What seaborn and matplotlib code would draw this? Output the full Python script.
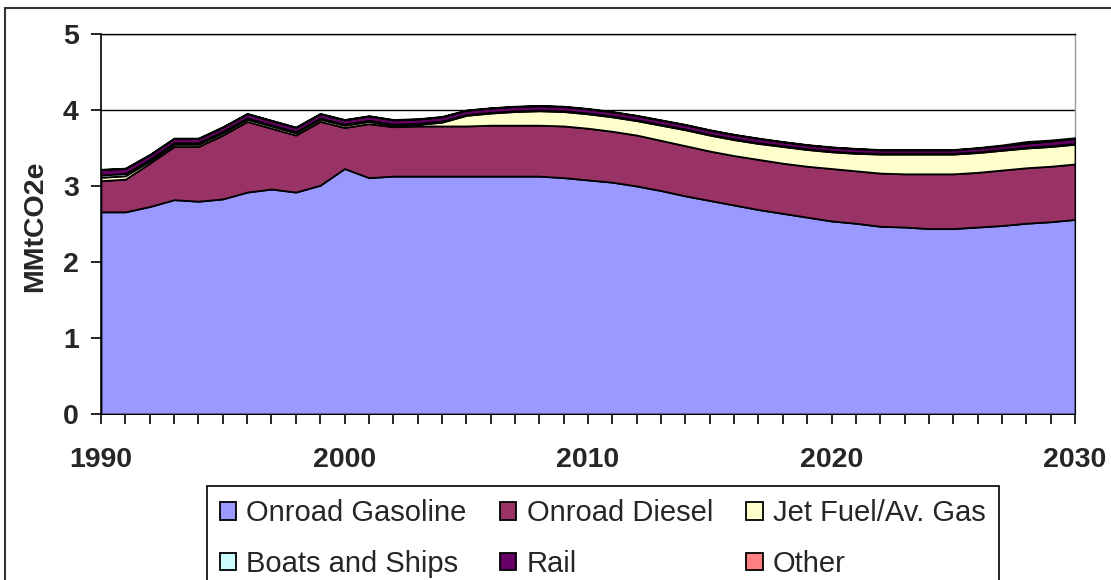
import numpy as np
import pandas as pd
import matplotlib
matplotlib.use("Agg")
import matplotlib.pyplot as plt
from matplotlib.patches import Rectangle
import seaborn as sns

years = list(range(1990, 2031))

onroad_gasoline = [2.66, 2.66, 2.73, 2.82, 2.80, 2.83, 2.92, 2.96, 2.92, 3.01,
                   3.23, 3.11, 3.13, 3.13, 3.13, 3.13, 3.13, 3.13, 3.13, 3.11,
                   3.08, 3.05, 3.00, 2.94, 2.87, 2.81, 2.75, 2.69, 2.64, 2.59,
                   2.54, 2.51, 2.47, 2.46, 2.44, 2.44, 2.46, 2.48, 2.51, 2.53,
                   2.56]
onroad_diesel = [0.41, 0.43, 0.57, 0.70, 0.72, 0.84, 0.93, 0.80, 0.75, 0.84,
                 0.54, 0.71, 0.65, 0.66, 0.66, 0.66, 0.67, 0.67, 0.67, 0.68,
                 0.68, 0.67, 0.67, 0.66, 0.66, 0.65, 0.65, 0.66, 0.66, 0.67,
                 0.69, 0.69, 0.70, 0.70, 0.72, 0.72, 0.72, 0.73, 0.73, 0.73,
                 0.73]
jet_fuel = [0.045, 0.045, 0.03, 0.03, 0.03, 0.03, 0.03, 0.03, 0.03, 0.03,
            0.03, 0.03, 0.02, 0.02, 0.05, 0.14, 0.16, 0.18, 0.19, 0.19,
            0.19, 0.19, 0.19, 0.20, 0.21, 0.21, 0.21, 0.21, 0.22, 0.22,
            0.22, 0.23, 0.25, 0.26, 0.26, 0.26, 0.26, 0.26, 0.26, 0.26,
            0.26]
boats_ships = [0.03, 0.03, 0.02, 0.02, 0.02, 0.02, 0.015, 0.015, 0.015, 0.015,
               0.015, 0.015, 0.015, 0.015, 0.015, 0.01, 0.01, 0.01, 0.01, 0.01,
               0.01, 0.01, 0.01, 0.01, 0.01, 0.01, 0.01, 0.01, 0.01, 0.01,
               0.01, 0.01, 0.01, 0.01, 0.01, 0.01, 0.01, 0.01, 0.01, 0.01,
               0.01]
rail = [0.07, 0.065, 0.06, 0.055, 0.055, 0.055, 0.055, 0.055, 0.055, 0.055,
        0.055, 0.055, 0.055, 0.055, 0.055, 0.055, 0.055, 0.055, 0.055, 0.055,
        0.055, 0.055, 0.055, 0.055, 0.055, 0.055, 0.055, 0.055, 0.05, 0.05,
        0.05, 0.05, 0.045, 0.045, 0.045, 0.045, 0.05, 0.05, 0.055, 0.06,
        0.065]
other = [0.005] * 37 + [0.01, 0.02, 0.015, 0.01]

series_names = ["Onroad Gasoline", "Onroad Diesel", "Jet Fuel/Av. Gas",
                "Boats and Ships", "Rail", "Other"]
series_colors = ["#9999FF", "#993366", "#FFFFCC", "#CCFFFF", "#660066", "#FF8080"]

df = pd.DataFrame({
    "Year": years,
    "Onroad Gasoline": onroad_gasoline,
    "Onroad Diesel": onroad_diesel,
    "Jet Fuel/Av. Gas": jet_fuel,
    "Boats and Ships": boats_ships,
    "Rail": rail,
    "Other": other,
})

sns.set_theme(style="white")
plt.rcParams["font.family"] = ["Liberation Sans", "DejaVu Sans"]

fig = plt.figure(figsize=(11.11, 5.80), dpi=100)
ax = fig.add_axes([101 / 1111, 1 - 414 / 580, 974 / 1111, 380 / 580])

palette = sns.color_palette(series_colors)
polys = ax.stackplot(df["Year"], [df[n] for n in series_names],
                     labels=series_names, colors=palette,
                     edgecolor="black", linewidth=1.3, zorder=3)

ax.set_xlim(1990, 2030)
ax.set_ylim(0, 5)
ax.set_xticks([1990, 2000, 2010, 2020, 2030])
ax.set_xticks(years, minor=True)
ax.set_yticks([0, 1, 2, 3, 4, 5])
ax.set_axisbelow(True)
ax.grid(axis="y", color="black", linewidth=1.0, zorder=0)
ax.grid(axis="x", visible=False)

for side in ["left", "bottom", "top"]:
    ax.spines[side].set_visible(True)
    ax.spines[side].set_color("black")
    ax.spines[side].set_linewidth(1.2)
ax.spines["right"].set_visible(True)
ax.spines["right"].set_color("#999999")
ax.spines["right"].set_linewidth(1.0)
ax.spines["top"].set_linewidth(1.0)

ax.tick_params(axis="x", which="both", direction="out", length=7, width=1.2,
               color="black", bottom=True, pad=17, labelsize=20.5)
ax.tick_params(axis="y", which="major", direction="out", length=7, width=1.2,
               color="black", left=True, pad=9, labelsize=20.5)
for lab in ax.get_xticklabels() + ax.get_yticklabels():
    lab.set_fontweight("bold")

ax.set_ylabel("MMtCO2e", fontsize=20.5, fontweight="bold")
ax.yaxis.set_label_coords(-0.054, 0.495)
ax.set_xlabel("")

order = [0, 3, 1, 4, 2, 5]
leg = fig.legend([polys[i] for i in order], [series_names[i] for i in order],
                 loc="upper left", bbox_to_anchor=(207 / 1111, 1 - 486 / 580),
                 bbox_transform=fig.transFigure, ncol=3, fontsize=21,
                 frameon=True, fancybox=False, shadow=False, framealpha=1,
                 edgecolor="black", borderaxespad=0, borderpad=0.45,
                 handlelength=0.55, handleheight=0.55, handletextpad=0.35,
                 columnspacing=1.15, labelspacing=0.78)
leg.get_frame().set_linewidth(1.2)

fig.patches.append(Rectangle((5 / 1111, -0.2), 1.5, 1.2 - 8 / 580,
                             transform=fig.transFigure, fill=False,
                             edgecolor="#333333", linewidth=1.5))

fig.savefig("out.png", dpi=100)
